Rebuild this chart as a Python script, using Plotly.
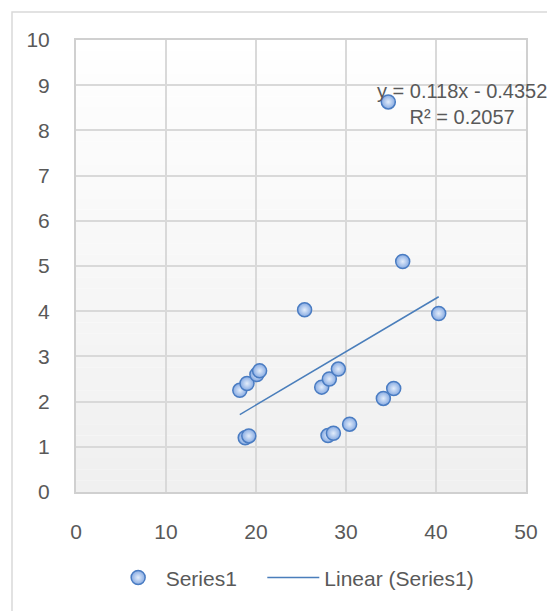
import plotly.graph_objects as go

# Data
x_vals = [18.2, 18.8, 19.2, 19.0, 20.1, 20.4, 25.4, 27.3, 28.0, 28.6, 28.15, 29.15,
          30.4, 34.15, 35.3, 34.7, 36.3, 40.3]
y_vals = [2.25, 1.20, 1.24, 2.40, 2.60, 2.68, 4.03, 2.32, 1.25, 1.30, 2.50, 2.72,
          1.50, 2.07, 2.29, 8.63, 5.10, 3.95]
series_name = "Series1"
trend_name = "Linear (Series1)"
trend_slope = 0.118
trend_intercept = -0.4352
trend_r2 = 0.2057
x_ticks = [0, 10, 20, 30, 40, 50]
y_ticks = list(range(0, 11))

tx = [min(x_vals), max(x_vals)]
ty = [trend_slope * v + trend_intercept for v in tx]

FONT = "Liberation Sans"
TXT = "#595959"

fig = go.Figure()
fig.add_trace(go.Scatter(
    x=x_vals, y=y_vals, mode="markers", name=series_name, legend="legend",
    marker=dict(symbol="circle", size=14, color="#86aae2",
                gradient=dict(type="radial", color="#e3edfb"),
                line=dict(color="#4a7cc2", width=1.5)),
))
fig.add_trace(go.Scatter(
    x=tx, y=ty, mode="lines", name=trend_name, legend="legend2",
    line=dict(color="#4a7ebb", width=1.5),
))

eq_text = f"y = {trend_slope}x - {abs(trend_intercept)}<br>R² = {trend_r2}"
fig.add_annotation(x=42.9, y=8.58, xref="x", yref="y", text=eq_text,
                   showarrow=False, align="center", xanchor="center", yanchor="middle",
                   font=dict(size=20, color=TXT, family=FONT))

# chart-area border
fig.add_shape(type="rect", xref="paper", yref="paper",
              x0=-0.1422, x1=1.3, y0=-0.5, y1=1.062,
              line=dict(color="#d9d9d9", width=1.5), fillcolor="rgba(0,0,0,0)", layer="below")

# plot-area vertical gradient background (bands)
n_bands = 40
for i in range(n_bands):
    f = i / (n_bands - 1)
    c = int(255 - (255 - 240) * f)
    fig.add_shape(type="rect", xref="paper", yref="paper",
                  x0=0, x1=1, y0=1 - (i + 1) / n_bands, y1=1 - i / n_bands,
                  line=dict(width=0), fillcolor=f"rgb({c},{c},{c})", layer="below")

axis_common = dict(showline=True, linecolor="#d0d0d0", linewidth=2, mirror=True,
                   showgrid=True, gridcolor="#d9d9d9", gridwidth=1.5,
                   zeroline=False, ticks="", ticklabelstandoff=20,
                   tickfont=dict(size=21, color=TXT, family=FONT))

legend_font = dict(size=21, color=TXT, family=FONT)

fig.update_layout(
    width=555, height=611,
    margin=dict(l=68, r=37, t=32, b=127),
    paper_bgcolor="white", plot_bgcolor="rgba(0,0,0,0)",
    showlegend=True,
    legend=dict(orientation="h", x=0.077, xanchor="left", y=-0.19, yanchor="middle",
                font=legend_font, itemwidth=45, bgcolor="rgba(0,0,0,0)"),
    legend2=dict(orientation="h", x=0.414, xanchor="left", y=-0.19, yanchor="middle",
                 font=legend_font, itemwidth=52, bgcolor="rgba(0,0,0,0)"),
    xaxis=dict(range=[0, 50], tickvals=x_ticks, **axis_common),
    yaxis=dict(range=[0, 10], tickvals=y_ticks, **axis_common),
)

fig.write_html("out.html")
